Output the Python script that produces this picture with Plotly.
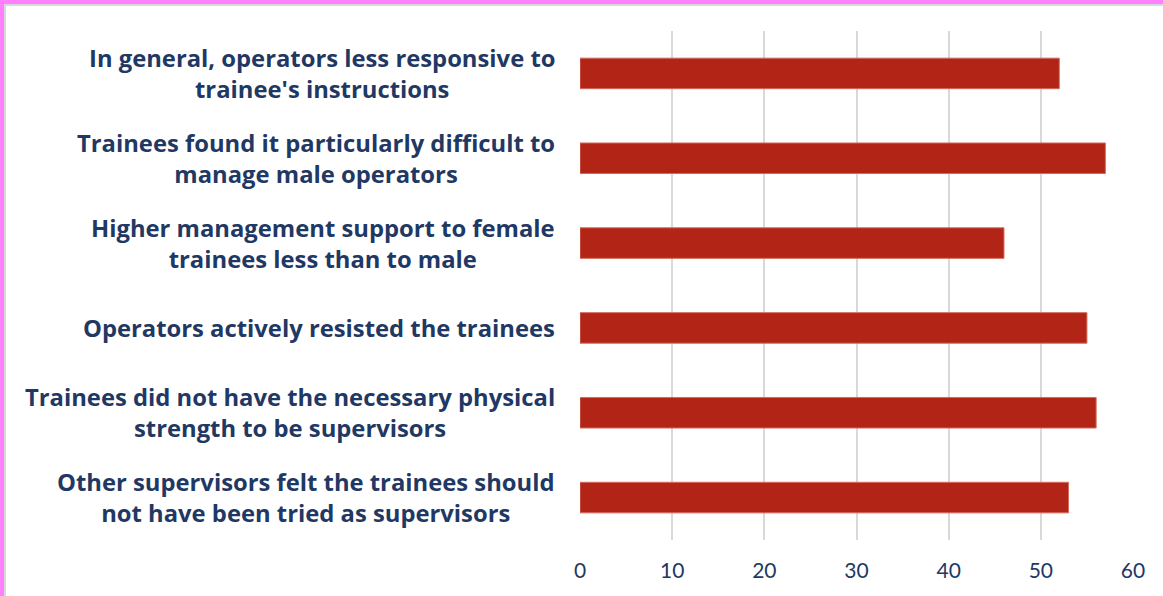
import plotly.graph_objects as go

categories = [
    "In general, operators less responsive to<br>trainee's instructions",
    "Trainees found it particularly difficult to<br>manage male operators",
    "Higher management support to female<br>trainees less than to male",
    "Operators actively resisted the trainees",
    "Trainees did not have the necessary physical<br>strength to be supervisors",
    "Other supervisors felt the trainees should<br>not have been tried as supervisors",
]
values = [52, 57, 46, 55, 56, 53]
tick_vals = [0, 10, 20, 30, 40, 50, 60]

W, H = 1163, 596
L, R, T, B = 580, 30, 31, 56
PW, PH = W - L - R, H - T - B

def px(x):
    return (x - L) / PW

def py(y):
    return 1 - (y - T) / PH

NAVY = "#1F3864"
BAR = "#B22415"

fig = go.Figure()
fig.add_trace(go.Bar(
    x=values, y=categories, orientation="h",
    marker=dict(color=BAR, line=dict(color="#D46A5C", width=1)),
    width=0.36,
))

annotations = []
for c in categories:
    annotations.append(dict(
        x=px(557), xref="paper", y=c, yref="y", text="<b>" + c + "</b>",
        showarrow=False, xanchor="right", yanchor="middle", align="center",
        font=dict(family="Open Sans", size=23.8, color=NAVY),
    ))

shapes = [
    dict(type="rect", xref="paper", yref="paper", x0=px(0), x1=px(W), y0=py(0), y1=py(4),
         fillcolor="#FF80FF", line=dict(width=0), layer="above"),
    dict(type="rect", xref="paper", yref="paper", x0=px(0), x1=px(4), y0=py(0), y1=py(H),
         fillcolor="#FF80FF", line=dict(width=0), layer="above"),
    dict(type="rect", xref="paper", yref="paper", x0=px(4), x1=px(W), y0=py(4), y1=py(6),
         fillcolor="#D9D9D9", line=dict(width=0), layer="above"),
    dict(type="rect", xref="paper", yref="paper", x0=px(4), x1=px(6), y0=py(4), y1=py(H),
         fillcolor="#D9D9D9", line=dict(width=0), layer="above"),
]

fig.update_layout(
    width=W, height=H,
    margin=dict(l=L, r=R, t=T, b=B),
    paper_bgcolor="white", plot_bgcolor="white",
    showlegend=False,
    annotations=annotations,
    shapes=shapes,
    xaxis=dict(
        range=[0, 60], tickvals=tick_vals, showgrid=True, gridcolor="#D9D9D9", gridwidth=2,
        zeroline=False, showline=False, ticks="", ticklabelstandoff=16,
        tickfont=dict(family="Lato", size=21, color=NAVY),
    ),
    yaxis=dict(
        autorange="reversed", showticklabels=False, showgrid=False, zeroline=False,
        showline=False, ticks="",
    ),
)

fig.write_html("out.html", config={"displayModeBar": False},
               post_script="document.body.style.margin='0';document.body.style.overflow='hidden';")
